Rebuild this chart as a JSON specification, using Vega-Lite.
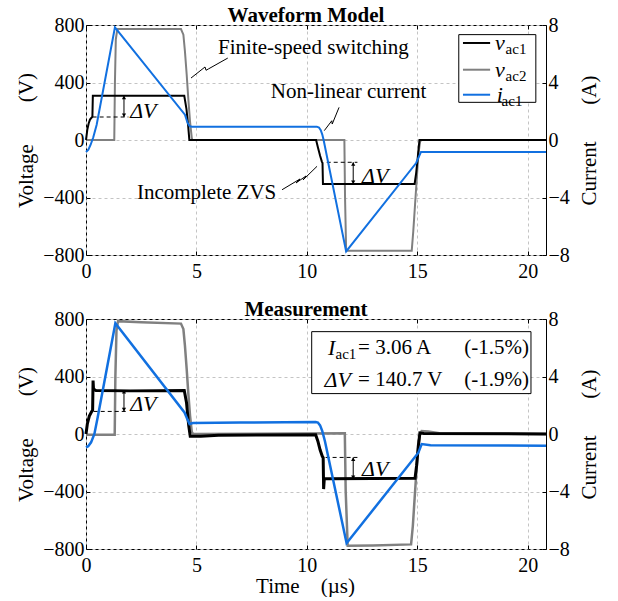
{
  "$schema": "https://vega.github.io/schema/vega-lite/v6.json",
  "background": "white",
  "padding": {"left": 15, "top": 4, "right": 5, "bottom": 0},
  "spacing": 16,
  "config": {
    "font": "Liberation Serif",
    "view": {"stroke": "black", "strokeWidth": 1},
    "axis": {
      "labelFont": "Liberation Serif", "labelFontSize": 20, "labelColor": "black",
      "titleFont": "Liberation Serif", "titleFontSize": 21, "titleFontWeight": "normal", "titleColor": "black",
      "domain": false, "tickSize": -4, "tickColor": "black", "tickWidth": 1,
      "labelFlush": false, "labelOverlap": false,
      "gridDash": [3, 3], "gridColor": "#c4c4c4", "gridWidth": 1
    },
    "title": {"font": "Liberation Serif", "fontSize": 21, "fontWeight": "bold", "color": "black"}
  },
  "datasets": {
    "model": [
      {"s": "v1", "t": 0, "y": 0}, {"s": "v1", "t": 0.06, "y": 72}, {"s": "v1", "t": 0.12, "y": 115}, {"s": "v1", "t": 0.18, "y": 142}, {"s": "v1", "t": 0.29, "y": 163}, {"s": "v1", "t": 0.31, "y": 308}, {"s": "v1", "t": 4.45, "y": 308}, {"s": "v1", "t": 4.55, "y": 215}, {"s": "v1", "t": 4.62, "y": 110}, {"s": "v1", "t": 4.68, "y": 0}, {"s": "v1", "t": 10.42, "y": 0}, {"s": "v1", "t": 10.5, "y": -50}, {"s": "v1", "t": 10.6, "y": -110}, {"s": "v1", "t": 10.68, "y": -150}, {"s": "v1", "t": 10.71, "y": -160}, {"s": "v1", "t": 10.73, "y": -306}, {"s": "v1", "t": 14.88, "y": -306}, {"s": "v1", "t": 14.95, "y": -230}, {"s": "v1", "t": 15.03, "y": -110}, {"s": "v1", "t": 15.1, "y": 0}, {"s": "v1", "t": 20.83, "y": 0},
      {"s": "v2", "t": 0, "y": 0}, {"s": "v2", "t": 1.28, "y": 0}, {"s": "v2", "t": 1.31, "y": 400}, {"s": "v2", "t": 1.35, "y": 700}, {"s": "v2", "t": 1.42, "y": 772}, {"s": "v2", "t": 4.3, "y": 772}, {"s": "v2", "t": 4.41, "y": 733}, {"s": "v2", "t": 4.48, "y": 617}, {"s": "v2", "t": 4.56, "y": 454}, {"s": "v2", "t": 4.63, "y": 292}, {"s": "v2", "t": 4.71, "y": 130}, {"s": "v2", "t": 4.79, "y": 14}, {"s": "v2", "t": 4.82, "y": 0}, {"s": "v2", "t": 11.7, "y": 0}, {"s": "v2", "t": 11.73, "y": -400}, {"s": "v2", "t": 11.78, "y": -770}, {"s": "v2", "t": 14.75, "y": -770}, {"s": "v2", "t": 14.82, "y": -635}, {"s": "v2", "t": 14.9, "y": -450}, {"s": "v2", "t": 14.98, "y": -264}, {"s": "v2", "t": 15.05, "y": -102}, {"s": "v2", "t": 15.13, "y": -9}, {"s": "v2", "t": 15.2, "y": 0}, {"s": "v2", "t": 20.83, "y": 0},
      {"s": "i", "t": 0, "y": -0.83}, {"s": "i", "t": 0.107, "y": -0.67}, {"s": "i", "t": 0.21, "y": -0.33}, {"s": "i", "t": 0.33, "y": 0.19}, {"s": "i", "t": 0.483, "y": 1.06}, {"s": "i", "t": 1.31, "y": 7.84}, {"s": "i", "t": 4.48, "y": 1.76}, {"s": "i", "t": 4.6, "y": 1.2}, {"s": "i", "t": 4.7, "y": 0.95}, {"s": "i", "t": 4.8, "y": 0.93}, {"s": "i", "t": 10.45, "y": 0.93}, {"s": "i", "t": 10.55, "y": 0.87}, {"s": "i", "t": 10.63, "y": 0.68}, {"s": "i", "t": 10.7, "y": 0.38}, {"s": "i", "t": 10.76, "y": 0}, {"s": "i", "t": 11.78, "y": -7.75}, {"s": "i", "t": 14.95, "y": -1.6}, {"s": "i", "t": 15.17, "y": -0.83}, {"s": "i", "t": 20.83, "y": -0.83}
    ],
    "meas": [
      {"s": "v1", "t": 0, "y": 0}, {"s": "v1", "t": 0.06, "y": 70}, {"s": "v1", "t": 0.15, "y": 125}, {"s": "v1", "t": 0.25, "y": 155}, {"s": "v1", "t": 0.3, "y": 165}, {"s": "v1", "t": 0.32, "y": 372}, {"s": "v1", "t": 0.34, "y": 312}, {"s": "v1", "t": 0.45, "y": 302}, {"s": "v1", "t": 2, "y": 300}, {"s": "v1", "t": 4.45, "y": 302}, {"s": "v1", "t": 4.55, "y": 220}, {"s": "v1", "t": 4.65, "y": 60}, {"s": "v1", "t": 4.72, "y": -15}, {"s": "v1", "t": 5.2, "y": -15}, {"s": "v1", "t": 6, "y": -8}, {"s": "v1", "t": 10.4, "y": -5}, {"s": "v1", "t": 10.5, "y": -50}, {"s": "v1", "t": 10.6, "y": -110}, {"s": "v1", "t": 10.7, "y": -155}, {"s": "v1", "t": 10.74, "y": -165}, {"s": "v1", "t": 10.76, "y": -383}, {"s": "v1", "t": 10.79, "y": -312}, {"s": "v1", "t": 11, "y": -312}, {"s": "v1", "t": 14.9, "y": -308}, {"s": "v1", "t": 14.97, "y": -220}, {"s": "v1", "t": 15.05, "y": -80}, {"s": "v1", "t": 15.12, "y": 8}, {"s": "v1", "t": 15.3, "y": 4}, {"s": "v1", "t": 20.83, "y": 0},
      {"s": "v2", "t": 0, "y": -5}, {"s": "v2", "t": 1.3, "y": -5}, {"s": "v2", "t": 1.33, "y": 400}, {"s": "v2", "t": 1.38, "y": 720}, {"s": "v2", "t": 1.45, "y": 785}, {"s": "v2", "t": 2.5, "y": 778}, {"s": "v2", "t": 4.3, "y": 768}, {"s": "v2", "t": 4.41, "y": 730}, {"s": "v2", "t": 4.48, "y": 615}, {"s": "v2", "t": 4.56, "y": 450}, {"s": "v2", "t": 4.63, "y": 290}, {"s": "v2", "t": 4.71, "y": 130}, {"s": "v2", "t": 4.79, "y": 15}, {"s": "v2", "t": 4.85, "y": 0}, {"s": "v2", "t": 11.72, "y": 5}, {"s": "v2", "t": 11.76, "y": -400}, {"s": "v2", "t": 11.85, "y": -778}, {"s": "v2", "t": 13, "y": -775}, {"s": "v2", "t": 14.72, "y": -768}, {"s": "v2", "t": 14.8, "y": -640}, {"s": "v2", "t": 14.88, "y": -450}, {"s": "v2", "t": 14.96, "y": -264}, {"s": "v2", "t": 15.04, "y": -102}, {"s": "v2", "t": 15.12, "y": -5}, {"s": "v2", "t": 15.2, "y": 20}, {"s": "v2", "t": 15.5, "y": 18}, {"s": "v2", "t": 16, "y": 5}, {"s": "v2", "t": 20.83, "y": 0},
      {"s": "i", "t": 0, "y": -0.93}, {"s": "i", "t": 0.1, "y": -0.85}, {"s": "i", "t": 0.23, "y": -0.58}, {"s": "i", "t": 0.38, "y": 0}, {"s": "i", "t": 0.53, "y": 1.16}, {"s": "i", "t": 1.33, "y": 7.7}, {"s": "i", "t": 4.46, "y": 1.5}, {"s": "i", "t": 4.6, "y": 1.0}, {"s": "i", "t": 4.69, "y": 0.7}, {"s": "i", "t": 4.84, "y": 0.76}, {"s": "i", "t": 7, "y": 0.8}, {"s": "i", "t": 10.4, "y": 0.84}, {"s": "i", "t": 10.5, "y": 0.8}, {"s": "i", "t": 10.6, "y": 0.6}, {"s": "i", "t": 10.7, "y": 0.2}, {"s": "i", "t": 10.82, "y": -0.5}, {"s": "i", "t": 11.8, "y": -7.6}, {"s": "i", "t": 15.05, "y": -1.3}, {"s": "i", "t": 15.2, "y": -0.7}, {"s": "i", "t": 15.6, "y": -0.78}, {"s": "i", "t": 20.83, "y": -0.82}
    ],
    "texts": [
      {"p": 1, "k": "c", "t": 10.3, "y": 640, "txt": "Finite-speed switching"},
      {"p": 1, "k": "c", "t": 11.89, "y": 334, "txt": "Non-linear current"},
      {"p": 1, "k": "c", "t": 5.46, "y": -369, "txt": "Incomplete ZVS"},
      {"p": 1, "k": "il", "t": 2.0, "y": 200, "txt": "ΔV"},
      {"p": 1, "k": "il", "t": 12.5, "y": -250, "txt": "ΔV"},
      {"p": 1, "k": "il", "t": 18.52, "y": 675, "txt": "v"},
      {"p": 1, "k": "il", "t": 18.52, "y": 489, "txt": "v"},
      {"p": 1, "k": "il", "t": 18.6, "y": 315, "txt": "i"},
      {"p": 1, "k": "sub", "t": 19.0, "y": 675, "txt": "ac1"},
      {"p": 1, "k": "sub", "t": 19.0, "y": 489, "txt": "ac2"},
      {"p": 1, "k": "sub", "t": 18.82, "y": 315, "txt": "ac1"},
      {"p": 2, "k": "il", "t": 2.0, "y": 209, "txt": "ΔV"},
      {"p": 2, "k": "il", "t": 12.5, "y": -241, "txt": "ΔV"},
      {"p": 2, "k": "il", "t": 10.96, "y": 601, "txt": "I"},
      {"p": 2, "k": "sub", "t": 11.3, "y": 601, "txt": "ac1"},
      {"p": 2, "k": "l", "t": 12.32, "y": 601, "txt": "= 3.06 A"},
      {"p": 2, "k": "r", "t": 20.06, "y": 601, "txt": "(-1.5%)"},
      {"p": 2, "k": "il", "t": 10.8, "y": 378, "txt": "ΔV"},
      {"p": 2, "k": "l", "t": 12.32, "y": 378, "txt": "= 140.7 V"},
      {"p": 2, "k": "r", "t": 20.06, "y": 378, "txt": "(-1.9%)"}
    ],
    "hrules": [
      {"p": 1, "k": "dash", "t": 0.3, "t2": 1.92, "y": 160},
      {"p": 1, "k": "dash", "t": 10.9, "t2": 12.29, "y": -155},
      {"p": 2, "k": "dash", "t": 0.35, "t2": 1.92, "y": 157},
      {"p": 2, "k": "dash", "t": 10.85, "t2": 12.29, "y": -163}
    ],
    "legend": [
      {"s": "v1", "t": 17.07, "t2": 18.3, "y": 675},
      {"s": "v2", "t": 17.07, "t2": 18.3, "y": 489},
      {"s": "i", "t": 17.07, "t2": 18.3, "y": 315}
    ],
    "vrules": [
      {"p": 1, "t": 1.72, "y": 160, "y2": 308},
      {"p": 1, "t": 12.1, "y": -155, "y2": -306},
      {"p": 2, "t": 1.72, "y": 157, "y2": 306},
      {"p": 2, "t": 12.1, "y": -163, "y2": -313}
    ],
    "heads": [
      {"p": 1, "d": "up", "t": 1.72, "y": 296},
      {"p": 1, "d": "down", "t": 1.72, "y": 172},
      {"p": 1, "d": "up", "t": 12.1, "y": -167},
      {"p": 1, "d": "down", "t": 12.1, "y": -294},
      {"p": 2, "d": "up", "t": 1.72, "y": 294},
      {"p": 2, "d": "down", "t": 1.72, "y": 169},
      {"p": 2, "d": "up", "t": 12.1, "y": -175},
      {"p": 2, "d": "down", "t": 12.1, "y": -301}
    ],
    "leaders": [
      {"g": "a", "o": 1, "t": 4.755, "y": 431}, {"g": "a", "o": 2, "t": 5.39, "y": 508}, {"g": "a", "o": 3, "t": 5.435, "y": 485}, {"g": "a", "o": 4, "t": 5.54, "y": 494}, {"g": "a", "o": 5, "t": 6.42, "y": 570},
      {"g": "b", "o": 1, "t": 10.79, "y": 65}, {"g": "b", "o": 2, "t": 11.13, "y": 134}, {"g": "b", "o": 3, "t": 11.15, "y": 111}, {"g": "b", "o": 4, "t": 11.46, "y": 227},
      {"g": "c", "o": 1, "t": 8.877, "y": -346}, {"g": "c", "o": 2, "t": 9.692, "y": -271}, {"g": "c", "o": 3, "t": 9.511, "y": -299}, {"g": "c", "o": 4, "t": 9.964, "y": -250}, {"g": "c", "o": 5, "t": 9.828, "y": -278}, {"g": "c", "o": 6, "t": 10.462, "y": -183}
    ],
    "boxes": [
      {"p": 1, "t": 16.88, "t2": 20.37, "y": 262, "y2": 733},
      {"p": 2, "t": 10.22, "t2": 20.15, "y": 281, "y2": 712}
    ]
  },
  "vconcat": [
    {
      "width": 460, "height": 230,
      "title": {"text": "Waveform Model", "dx": -10, "offset": -11},
      "encoding": {
        "x": {"field": "t", "type": "quantitative", "scale": {"domain": [0, 20.83], "nice": false, "zero": false},
              "axis": {"values": [0, 5, 10, 15, 20], "grid": true, "labelPadding": 10, "title": null}}
      },
      "layer": [
        {
          "encoding": {
            "y": {"field": "y", "type": "quantitative", "scale": {"domain": [-800, 800], "nice": false, "zero": false},
                  "axis": {"values": [-800, -400, 0, 400, 800], "grid": true, "labelPadding": 6, "titlePadding": 6,
                           "title": "Voltage\u00a0\u00a0\u00a0\u00a0\u00a0\u00a0\u00a0\u00a0(V)"}}
          },
          "layer": [
            {"data": {"name": "model"}, "transform": [{"filter": "datum.s == 'v2'"}],
             "mark": {"type": "line", "color": "#808080", "strokeWidth": 2}},
            {"data": {"name": "model"}, "transform": [{"filter": "datum.s == 'v1'"}],
             "mark": {"type": "line", "color": "black", "strokeWidth": 2}},
            {"data": {"name": "hrules"}, "transform": [{"filter": "datum.p == 1"}],
             "mark": {"type": "rule", "color": "black", "strokeWidth": 1, "strokeDash": [4, 3]},
             "encoding": {"x2": {"field": "t2"}}},
            {"data": {"name": "vrules"}, "transform": [{"filter": "datum.p == 1"}],
             "mark": {"type": "rule", "color": "black", "strokeWidth": 1},
             "encoding": {"y2": {"field": "y2"}}},
            {"data": {"name": "heads"}, "transform": [{"filter": "datum.p == 1 && datum.d == 'up'"}],
             "mark": {"type": "point", "shape": "triangle-up", "filled": true, "color": "black", "size": 18, "opacity": 1}},
            {"data": {"name": "heads"}, "transform": [{"filter": "datum.p == 1 && datum.d == 'down'"}],
             "mark": {"type": "point", "shape": "triangle-down", "filled": true, "color": "black", "size": 18, "opacity": 1}},
            {"data": {"name": "leaders"},
             "mark": {"type": "line", "color": "black", "strokeWidth": 1},
             "encoding": {"detail": {"field": "g"}, "order": {"field": "o"}}},
            {"data": {"name": "boxes"}, "transform": [{"filter": "datum.p == 1"}],
             "mark": {"type": "rect", "fill": "white", "stroke": "black", "strokeWidth": 1},
             "encoding": {"x2": {"field": "t2"}, "y2": {"field": "y2"}}},
            {"data": {"name": "legend"},
             "mark": {"type": "rule", "strokeWidth": 2},
             "encoding": {"x2": {"field": "t2"},
                          "color": {"field": "s", "type": "nominal", "scale": {"domain": ["v1", "v2", "i"], "range": ["black", "#808080", "#1170e0"]}, "legend": null}}},
            {"data": {"name": "texts"}, "transform": [{"filter": "datum.p == 1 && datum.k == 'c'"}],
             "mark": {"type": "text", "font": "Liberation Serif", "fontSize": 21, "align": "center", "baseline": "middle", "color": "black"},
             "encoding": {"text": {"field": "txt"}}},
            {"data": {"name": "texts"}, "transform": [{"filter": "datum.p == 1 && datum.k == 'il'"}],
             "mark": {"type": "text", "font": "Liberation Serif", "fontSize": 22, "fontStyle": "italic", "align": "left", "baseline": "middle", "color": "black"},
             "encoding": {"text": {"field": "txt"}}},
            {"data": {"name": "texts"}, "transform": [{"filter": "datum.p == 1 && datum.k == 'sub'"}],
             "mark": {"type": "text", "font": "Liberation Serif", "fontSize": 15, "align": "left", "baseline": "middle", "dy": 6, "color": "black"},
             "encoding": {"text": {"field": "txt"}}}
          ]
        },
        {
          "data": {"name": "model"}, "transform": [{"filter": "datum.s == 'i'"}],
          "mark": {"type": "line", "color": "#1170e0", "strokeWidth": 2},
          "encoding": {
            "x": {"field": "t", "type": "quantitative",
                  "axis": {"orient": "top", "values": [0, 5, 10, 15, 20], "labels": false, "grid": false, "title": null}},
            "y": {"field": "y", "type": "quantitative", "scale": {"domain": [-8, 8], "nice": false, "zero": false},
                  "axis": {"orient": "right", "values": [-8, -4, 0, 4, 8], "grid": false, "labelPadding": 6, "titlePadding": 30, "titleAngle": -90,
                           "title": "Current\u00a0\u00a0\u00a0\u00a0\u00a0\u00a0\u00a0(A)"}}
          }
        }
      ],
      "resolve": {"scale": {"y": "independent"}, "axis": {"x": "independent"}}
    },
    {
      "width": 460, "height": 230,
      "title": {"text": "Measurement", "dx": -10, "offset": -11},
      "encoding": {
        "x": {"field": "t", "type": "quantitative", "scale": {"domain": [0, 20.83], "nice": false, "zero": false},
              "axis": {"values": [0, 5, 10, 15, 20], "grid": true, "labelPadding": 10, "titlePadding": 0, "titleX": 219,
                       "title": "Time\u00a0\u00a0\u00a0\u00a0(µs)"}}
      },
      "layer": [
        {
          "encoding": {
            "y": {"field": "y", "type": "quantitative", "scale": {"domain": [-800, 800], "nice": false, "zero": false},
                  "axis": {"values": [-800, -400, 0, 400, 800], "grid": true, "labelPadding": 6, "titlePadding": 6,
                           "title": "Voltage\u00a0\u00a0\u00a0\u00a0\u00a0\u00a0\u00a0\u00a0(V)"}}
          },
          "layer": [
            {"data": {"name": "meas"}, "transform": [{"filter": "datum.s == 'v2'"}],
             "mark": {"type": "line", "color": "#808080", "strokeWidth": 2.5}},
            {"data": {"name": "meas"}, "transform": [{"filter": "datum.s == 'v1'"}],
             "mark": {"type": "line", "color": "black", "strokeWidth": 3}},
            {"data": {"name": "hrules"}, "transform": [{"filter": "datum.p == 2"}],
             "mark": {"type": "rule", "color": "black", "strokeWidth": 1, "strokeDash": [4, 3]},
             "encoding": {"x2": {"field": "t2"}}},
            {"data": {"name": "vrules"}, "transform": [{"filter": "datum.p == 2"}],
             "mark": {"type": "rule", "color": "black", "strokeWidth": 1},
             "encoding": {"y2": {"field": "y2"}}},
            {"data": {"name": "heads"}, "transform": [{"filter": "datum.p == 2 && datum.d == 'up'"}],
             "mark": {"type": "point", "shape": "triangle-up", "filled": true, "color": "black", "size": 18, "opacity": 1}},
            {"data": {"name": "heads"}, "transform": [{"filter": "datum.p == 2 && datum.d == 'down'"}],
             "mark": {"type": "point", "shape": "triangle-down", "filled": true, "color": "black", "size": 18, "opacity": 1}},
            {"data": {"name": "boxes"}, "transform": [{"filter": "datum.p == 2"}],
             "mark": {"type": "rect", "fill": "white", "stroke": "black", "strokeWidth": 1},
             "encoding": {"x2": {"field": "t2"}, "y2": {"field": "y2"}}},
            {"data": {"name": "texts"}, "transform": [{"filter": "datum.p == 2 && datum.k == 'il'"}],
             "mark": {"type": "text", "font": "Liberation Serif", "fontSize": 22, "fontStyle": "italic", "align": "left", "baseline": "middle", "color": "black"},
             "encoding": {"text": {"field": "txt"}}},
            {"data": {"name": "texts"}, "transform": [{"filter": "datum.p == 2 && datum.k == 'sub'"}],
             "mark": {"type": "text", "font": "Liberation Serif", "fontSize": 15, "align": "left", "baseline": "middle", "dy": 6, "color": "black"},
             "encoding": {"text": {"field": "txt"}}},
            {"data": {"name": "texts"}, "transform": [{"filter": "datum.p == 2 && datum.k == 'l'"}],
             "mark": {"type": "text", "font": "Liberation Serif", "fontSize": 21, "align": "left", "baseline": "middle", "color": "black"},
             "encoding": {"text": {"field": "txt"}}},
            {"data": {"name": "texts"}, "transform": [{"filter": "datum.p == 2 && datum.k == 'r'"}],
             "mark": {"type": "text", "font": "Liberation Serif", "fontSize": 21, "align": "right", "baseline": "middle", "color": "black"},
             "encoding": {"text": {"field": "txt"}}}
          ]
        },
        {
          "data": {"name": "meas"}, "transform": [{"filter": "datum.s == 'i'"}],
          "mark": {"type": "line", "color": "#1170e0", "strokeWidth": 2.5},
          "encoding": {
            "x": {"field": "t", "type": "quantitative",
                  "axis": {"orient": "top", "values": [0, 5, 10, 15, 20], "labels": false, "grid": false, "title": null}},
            "y": {"field": "y", "type": "quantitative", "scale": {"domain": [-8, 8], "nice": false, "zero": false},
                  "axis": {"orient": "right", "values": [-8, -4, 0, 4, 8], "grid": false, "labelPadding": 6, "titlePadding": 30, "titleAngle": -90,
                           "title": "Current\u00a0\u00a0\u00a0\u00a0\u00a0\u00a0\u00a0(A)"}}
          }
        }
      ],
      "resolve": {"scale": {"y": "independent"}, "axis": {"x": "independent"}}
    }
  ]
}
